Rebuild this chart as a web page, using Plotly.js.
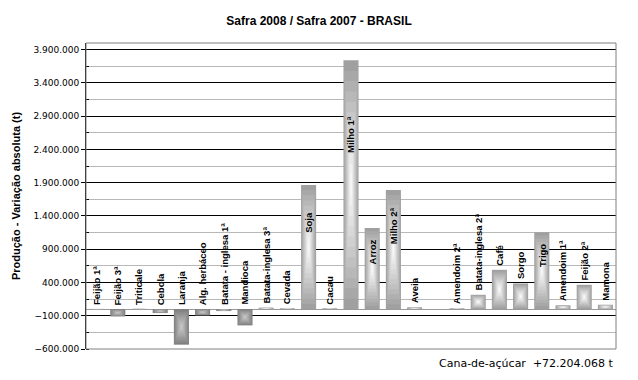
<!DOCTYPE html>
<html>
<head>
<meta charset="utf-8">
<script src="https://cdn.plot.ly/plotly-3.0.1.min.js"></script>
<style>html,body{margin:0;padding:0;background:#fff;}#chart{width:638px;height:380px;}</style>
</head>
<body>
<div id="chart"></div>
<script>
// ---- data ----
var categories = ["Feijão 1ª","Feijão 3ª","Triticale","Cebola","Laranja","Alg. herbáceo","Batata - inglesa 1ª","Mandioca","Batata-inglesa 3ª","Cevada","Soja","Cacau","Milho 1ª","Arroz","Milho 2ª","Aveia","","Amendoim 2ª","Batata-inglesa 2ª","Café","Sorgo","Trigo","Amendoim 1ª","Feijão 2ª","Mamona"];
var values = [2000,-110000,3000,-60000,-535000,-95000,-30000,-245000,20000,10000,1865000,10000,3740000,1220000,1790000,25000,null,10000,215000,590000,385000,1155000,55000,365000,65000];
var yTickVals = [-600000,-100000,400000,900000,1400000,1900000,2400000,2900000,3400000,3900000];
var footnote = "Cana-de-açúcar\u00a0 +72.204.068 t";

// ---- build gradient bars (concentric rectangles) ----
var N = 12, W = 0.71;
function mix(a, b, t){ return Math.round(a + (b - a) * t); }
function gray(v){ return 'rgb(' + v + ',' + v + ',' + v + ')'; }
var idx = categories.map(function(_, i){ return i; });
var traces = [];
for (var k = 0; k < N; k++) {
  var f = 1 - k / N;
  var t = k / (N - 1);
  var cols = values.map(function(v){
    return (v !== null && v < 0) ? gray(mix(128, 198, t)) : gray(mix(160, 248, t));
  });
  traces.push({
    type: 'bar',
    x: idx,
    y: values.map(function(v){ return v === null ? null : v * f; }),
    base: values.map(function(v){ return v === null ? 0 : v * (1 - f) / 2; }),
    width: W * f,
    marker: {color: cols, line: {width: 0}},
    hoverinfo: 'skip',
    showlegend: false
  });
}

// ---- category labels as annotations ----
var annotations = [];
categories.forEach(function(c, i){
  if (!c) return;
  var v = values[i] || 0;
  var a = {x: i, xref: 'x', yref: 'y', text: c, showarrow: false, textangle: -90,
           font: {family: 'Liberation Sans, Arial, sans-serif', size: 9.5, color: '#000', weight: 'bold'}};
  if (v >= 1000000) { a.y = v * 0.7; a.yanchor = 'middle'; }
  else { a.y = Math.max(v, 0); a.yanchor = 'bottom'; a.yshift = 2; }
  annotations.push(a);
});
annotations.push({xref: 'paper', yref: 'paper', x: 1, y: 0, xanchor: 'right', yanchor: 'top', yshift: -6,
  text: footnote, showarrow: false, font: {family: 'DejaVu Sans, sans-serif', size: 11, color: '#000'}});

var layout = {
  width: 638, height: 380,
  margin: {l: 86, r: 22, t: 43, b: 31},
  paper_bgcolor: '#fff', plot_bgcolor: '#fff',
  separators: ',.',
  barmode: 'overlay',
  title: {text: 'Safra 2008 / Safra 2007 - BRASIL', x: 0.5, xanchor: 'center', y: 0.945, yanchor: 'middle',
          font: {family: 'Liberation Sans, Arial, sans-serif', size: 12, color: '#000', weight: 'bold'}},
  xaxis: {range: [-0.5, categories.length - 0.5], showticklabels: false, showgrid: false, zeroline: false,
          ticks: '', showline: false, fixedrange: true},
  yaxis: {range: [-600000, 4000000], tickvals: yTickVals, tickformat: ',d',
          tickfont: {family: 'DejaVu Sans, sans-serif', size: 9, color: '#000'},
          ticks: 'outside', ticklen: 4, tickcolor: '#000', tickwidth: 1,
          showgrid: true, gridcolor: '#000', gridwidth: 1,
          minor: {dtick: 250000, tick0: -600000, showgrid: true, gridcolor: '#b8b8b8', gridwidth: 1, ticks: 'inside', ticklen: 3, tickcolor: '#000'},
          showline: true, linecolor: '#000', linewidth: 1,
          zeroline: true, zerolinecolor: '#9a9a9a', zerolinewidth: 1,
          title: {text: 'Produção - Variação absoluta (t)', standoff: 10,
                  font: {family: 'Liberation Sans, Arial, sans-serif', size: 11, color: '#000', weight: 'bold'}}},
  shapes: [{type: 'rect', xref: 'paper', yref: 'paper', x0: 0, x1: 1, y0: 0, y1: 1,
            line: {color: '#808080', width: 1}, layer: 'above'}],
  annotations: annotations
};

Plotly.newPlot('chart', traces, layout, {displayModeBar: false, staticPlot: true});
</script>
</body>
</html>
